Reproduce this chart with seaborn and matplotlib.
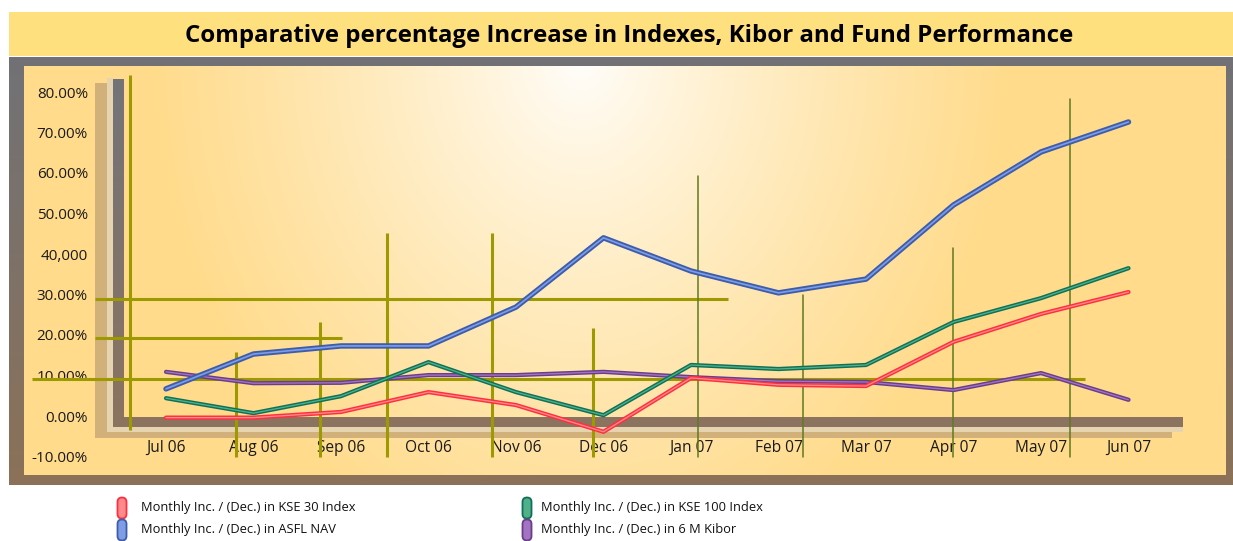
import numpy as np
import pandas as pd
import seaborn as sns
import matplotlib.pyplot as plt
import matplotlib.patheffects as pe
from matplotlib.patches import Rectangle, FancyBboxPatch

# ---- data ----
MONTHS = ["Jul 06", "Aug 06", "Sep 06", "Oct 06", "Nov 06", "Dec 06",
          "Jan 07", "Feb 07", "Mar 07", "Apr 07", "May 07", "Jun 07"]
KSE30 = [-0.4, -0.4, 1.0, 5.9, 2.7, -3.9, 9.4, 7.7, 7.4, 18.3, 25.2, 30.6]
KSE100 = [4.4, 0.7, 4.9, 13.3, 5.9, 0.2, 12.6, 11.6, 12.6, 23.2, 29.1, 36.5]
ASFL_NAV = [6.7, 15.3, 17.3, 17.3, 26.9, 44.0, 35.8, 30.4, 33.8, 52.1, 65.2, 72.6]
KIBOR_6M = [10.9, 8.1, 8.2, 10.1, 10.1, 10.9, 9.6, 8.6, 8.4, 6.4, 10.6, 4.0]
SERIES = ["Monthly Inc. / (Dec.) in KSE 30 Index",
          "Monthly Inc. / (Dec.) in KSE 100 Index",
          "Monthly Inc. / (Dec.) in ASFL NAV",
          "Monthly Inc. / (Dec.) in 6 M Kibor"]
Y_TICKS = [-10, 0, 10, 20, 30, 40, 50, 60, 70, 80]
Y_LABELS = ["-10.00%", "0.00%", "10.00%", "20.00%", "30.00%", "40,000",
            "50.00%", "60.00%", "70.00%", "80.00%"]
TITLE = "Comparative percentage Increase in Indexes, Kibor and Fund Performance"

df = pd.DataFrame({"x": np.arange(len(MONTHS)), "KSE30": KSE30, "KSE100": KSE100,
                   "NAV": ASFL_NAV, "KIBOR": KIBOR_6M})

# light centre, dark rim
COLORS = {"KSE30": ("#ff8a8a", "#ff2f3f"), "KSE100": ("#4fb08a", "#0f7057"),
          "NAV": ("#7f9de4", "#3d5dac"), "KIBOR": ("#a274c2", "#6a3d8a")}

sns.set_style("white")
plt.rcParams["font.family"] = ["Open Sans", "DejaVu Sans"]

W, H = 1233, 541
fig = plt.figure(figsize=(W / 100, H / 100), dpi=100)
fig.patch.set_facecolor("white")

# background axes in pixel coords (frame, banner, legend)
bg = fig.add_axes([0, 0, 1, 1], zorder=0)
bg.set_xlim(0, W)
bg.set_ylim(H, 0)
bg.axis("off")

bg.add_patch(Rectangle((9, 12), W - 9, 44, color="#ffe07e", lw=0))
grad = np.linspace(0, 1, 200)[:, None]
frame_cmap = plt.matplotlib.colors.LinearSegmentedColormap.from_list("fr", ["#717276", "#8b7158"])
bg.imshow(grad, cmap=frame_cmap, extent=(9, W, 485, 57), aspect="auto", zorder=1)
bg.text(629, 36, TITLE, ha="center", va="center", fontsize=17.3, fontweight="bold",
        color="black", zorder=3)

# main plot axes on the yellow panel
L, T, R, B = 24, 66, 1226, 475
ax = fig.add_axes([L / W, (H - B) / H, (R - L) / W, (B - T) / H], zorder=1)
ax.set_facecolor("none")
for s in ax.spines.values():
    s.set_visible(False)

px = bg.transData

# radial gradient panel
yy, xx = np.mgrid[T:B, L:R]
d = np.sqrt(((xx - 580) / 430.0) ** 2 + ((yy - 55) / 530.0) ** 2)
t = np.clip(d, 0, 1) ** 0.8
c0 = np.array([1.0, 1.0, 1.0])
c1 = np.array([255, 219, 139]) / 255.0
img = c0[None, None, :] * (1 - t[..., None]) + c1[None, None, :] * t[..., None]
ax.imshow(img, extent=(L, R, B, T), transform=px, aspect="auto", zorder=0, clip_on=False)

# pseudo 3D walls
walls = [((95, 83), 12, 355, "#d1b07a"), ((107, 78), 6, 354, "#e6d3b0"),
         ((95, 432), 1077, 6, "#d1b07a"), ((107, 427), 1076, 5, "#e6d3b0"),
         ((113, 417), 1070, 10, "#8b735f")]
for (x0, y0), w, h, c in walls:
    ax.add_patch(Rectangle((x0, y0), w, h, color=c, lw=0, transform=px, zorder=1))
wall_cmap = plt.matplotlib.colors.LinearSegmentedColormap.from_list("wl", ["#737378", "#8b735f"])
ax.imshow(grad, cmap=wall_cmap, extent=(113, 124, 427, 79), transform=px,
          aspect="auto", zorder=1.2, clip_on=False)

# stray olive grid segments
OLIVE, OLIVE_D = "#9c9a00", "#5f7a1e"
for yv, x0, x1 in [(28.9, -0.81, 6.42), (19.3, -0.81, 2.01), (9.1, -1.53, 10.5)]:
    ax.plot([x0, x1], [yv, yv], color=OLIVE, lw=2.2, zorder=1.5, solid_capstyle="butt")
for xv, y0, y1 in [(-0.41, -3.5, 84.2), (0.80, -10.1, 15.8), (1.76, -10.1, 23.2),
                   (2.53, -10.1, 45.2), (3.73, -10.1, 45.2), (4.88, -10.1, 21.7)]:
    ax.plot([xv, xv], [y0, y1], color=OLIVE, lw=2.2, zorder=1.5, solid_capstyle="butt")
for xv, y0, y1 in [(6.08, -10.1, 59.3), (7.28, -10.1, 29.9), (8.99, -10.1, 41.5),
                   (10.33, -10.1, 78.3)]:
    ax.plot([xv, xv], [y0, y1], color=OLIVE_D, lw=1.1, zorder=1.5)

# data lines
for key, lw in [("KIBOR", 2.1), ("KSE100", 2.1), ("KSE30", 2.1), ("NAV", 2.7)]:
    light, dark = COLORS[key]
    sns.lineplot(data=df, x="x", y=key, ax=ax, color=light, lw=lw * 0.45, sort=False)
    ln = ax.lines[-1]
    ln.set_zorder(3)
    ln.set_solid_capstyle("round")
    ln.set_path_effects([pe.Stroke(linewidth=lw * 1.45, foreground=dark), pe.Normal()])

ax.set_xlim((L - 166) / 87.5, (R - 166) / 87.5)
ax.set_ylim((416 - B) / 4.05, (416 - T) / 4.05)
ax.set_xticks(df["x"], MONTHS)
ax.set_yticks(Y_TICKS, Y_LABELS)
ax.set_xlabel("")
ax.set_ylabel("")
ax.tick_params(axis="y", length=0, pad=-46, labelsize=11, labelcolor="#1a1a1a")
ax.tick_params(axis="x", length=0, pad=-25, labelsize=11.2, labelcolor="#1a1a1a")
ax.grid(False)

# legend
leg = [(122, 141, 508, SERIES[0], COLORS["KSE30"]), (527, 541, 508, SERIES[1], COLORS["KSE100"]),
       (122, 141, 530, SERIES[2], COLORS["NAV"]), (527, 541, 530, SERIES[3], COLORS["KIBOR"])]
for x, tx, y, label, (light, dark) in leg:
    bg.add_patch(FancyBboxPatch((x - 2.5, y - 8.5), 5, 17, boxstyle="round,pad=2,rounding_size=4.5",
                                fc=light, ec=dark, lw=1.3, zorder=3))
    bg.text(tx, y, label, ha="left", va="center", fontsize=9.3, color="#111111", zorder=3)

fig.savefig("out.png", dpi=100)
